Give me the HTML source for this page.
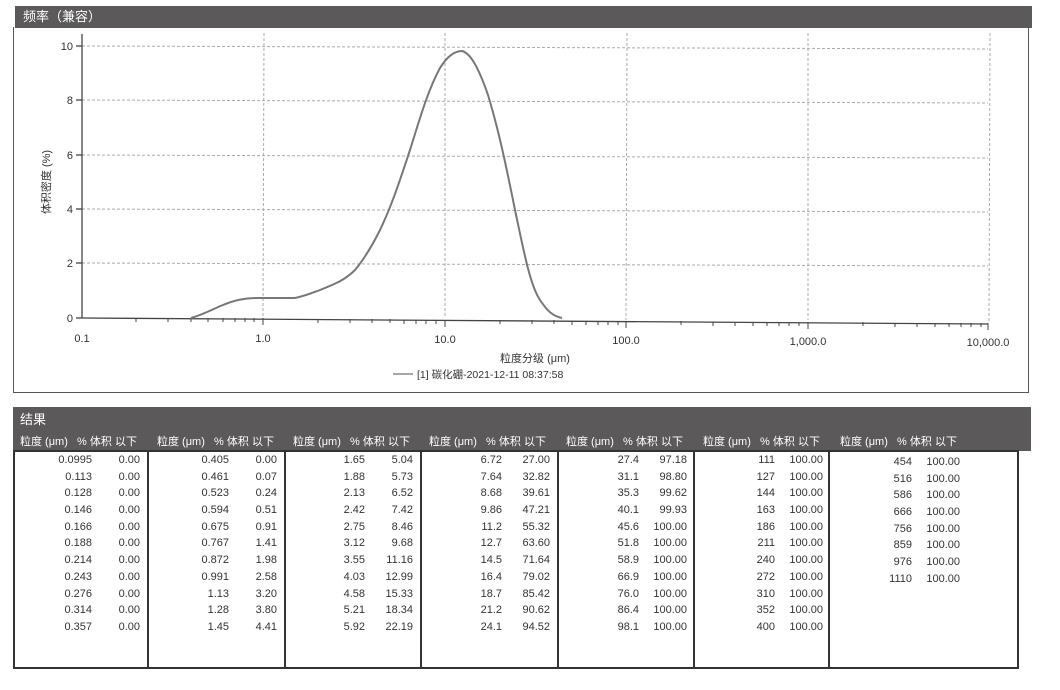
<!DOCTYPE html>
<html><head><meta charset="utf-8"><style>
body{margin:0;background:#fff;width:1060px;height:690px;position:relative;overflow:hidden;font-family:"Liberation Sans","Noto Sans CJK SC",sans-serif;color:#333}
.bar{position:absolute;background:#5b5959;color:#fff;}
.col{position:absolute;top:452px;font-size:11px;color:#333}
.col div{height:16.7px;line-height:16.7px;display:flex}
.col span{display:inline-block;text-align:right}
.col span.a{width:82px}.col span.b{width:48px}
.hd{position:absolute;top:433px;font-size:11px;color:#fff;white-space:nowrap}
.vl{position:absolute;top:450px;width:2px;height:218px;background:#333}
</style></head><body>
<div class="bar" style="left:15px;top:6px;width:1017px;height:22px;font-size:13px;line-height:22px;padding-left:8px;box-sizing:border-box">频率（兼容）</div>
<div style="position:absolute;left:13px;top:27px;width:1016px;height:366px;border:1.5px solid #555;border-top:none;box-sizing:border-box"></div>
<svg width="1060" height="400" style="position:absolute;left:0;top:0" font-family="Liberation Sans, sans-serif">
<g stroke="#aaa" stroke-dasharray="3,2" stroke-width="1">
<line x1="82" y1="46" x2="988" y2="49"/><line x1="82" y1="100" x2="988" y2="103"/><line x1="82" y1="155" x2="988" y2="158"/><line x1="82" y1="209" x2="988" y2="212"/><line x1="82" y1="263" x2="988" y2="266"/>
<line x1="264" y1="33" x2="263" y2="318"/><line x1="445" y1="33" x2="445" y2="318"/><line x1="627" y1="33" x2="626" y2="320"/><line x1="808" y1="33" x2="808" y2="320"/><line x1="990" y1="33" x2="989" y2="322"/>
</g>
<g stroke="#444" stroke-width="1.3" fill="none">
<line x1="82" y1="34" x2="82" y2="318"/><line x1="82" y1="318" x2="988" y2="324"/>
<line x1="76" y1="46" x2="82" y2="46"/><line x1="76" y1="100" x2="82" y2="100"/><line x1="76" y1="155" x2="82" y2="155"/><line x1="76" y1="209" x2="82" y2="209"/><line x1="76" y1="263" x2="82" y2="263"/><line x1="76" y1="318" x2="82" y2="318"/>
</g>
<g stroke="#444" stroke-width="1">
<path d="M136 318v4M168 318v4M191 318v4M208 318v4M223 318v4M235 318v4M245 318v4M254 318v4M263 318v7M318 319v4M350 319v4M372 319v4M390 319v4M404 320v4M416 320v4M426 320v4M436 320v4M445 320v7M500 320v4M532 320v4M554 320v4M572 321v4M586 321v4M598 321v4M608 321v4M618 321v4M626 321v7M681 321v4M713 322v4M735 322v4M753 322v4M767 322v4M779 322v4M789 322v4M799 322v4M808 322v7M863 322v4M895 323v4M917 323v4M935 323v4M949 323v4M961 323v4M971 323v4M981 323v4M988 323v7"/>
</g>
<path d="M191 318 C205 314,215 308,223 305 C235 300,245 298,258 298 L295 298 C305 296,312 293,320 290 C335 284,345 280,355 270 C365 258,372 246,380 230 C392 205,400 180,410 150 C420 118,428 90,440 68 C448 55,455 51,462 51 C470 53,478 66,488 95 C498 128,505 160,515 210 C524 252,530 285,540 300 C548 312,553 316,562 318" stroke="#777" stroke-width="2" fill="none"/>
<g font-size="11" fill="#333" text-anchor="end">
<text x="73" y="50">10</text><text x="73" y="104">8</text><text x="73" y="159">6</text><text x="73" y="213">4</text><text x="73" y="267">2</text><text x="73" y="322">0</text>
</g>
<g font-size="11" fill="#333" text-anchor="middle">
<text x="82" y="342">0.1</text><text x="263" y="342">1.0</text><text x="445" y="343">10.0</text><text x="626" y="344">100.0</text><text x="808" y="345">1,000.0</text><text x="988" y="346">10,000.0</text>
<text x="535" y="362" font-family="Liberation Sans, Noto Sans CJK SC, sans-serif">粒度分级 (μm)</text>
<text transform="translate(50,182) rotate(-90)" font-family="Liberation Sans, Noto Sans CJK SC, sans-serif">体积密度 (%)</text>
</g>
<line x1="393" y1="374" x2="413" y2="374" stroke="#888" stroke-width="1.5"/>
<text x="417" y="378" font-size="10.5" fill="#333" font-family="Liberation Sans, Noto Sans CJK SC, sans-serif">[1] 碳化硼-2021-12-11 08:37:58</text>
</svg>
<div class="bar" style="left:13px;top:407px;width:1018px;height:44px"></div>
<div style="position:absolute;left:20px;top:409px;color:#fff;font-size:13px">结果</div>
<div style="position:absolute;left:13px;top:450px;width:1006px;height:219px;border:2px solid #333;box-sizing:border-box;background:#fff"></div>
<div class="vl" style="left:147px"></div><div class="vl" style="left:284px"></div><div class="vl" style="left:420px"></div><div class="vl" style="left:557px"></div><div class="vl" style="left:693px"></div><div class="vl" style="left:828px"></div>
<div class="hd" style="left:20px">粒度 (μm)&nbsp;&nbsp;&nbsp;% 体积 以下</div>
<div class="hd" style="left:157px">粒度 (μm)&nbsp;&nbsp;&nbsp;% 体积 以下</div>
<div class="hd" style="left:293px">粒度 (μm)&nbsp;&nbsp;&nbsp;% 体积 以下</div>
<div class="hd" style="left:429px">粒度 (μm)&nbsp;&nbsp;&nbsp;% 体积 以下</div>
<div class="hd" style="left:566px">粒度 (μm)&nbsp;&nbsp;&nbsp;% 体积 以下</div>
<div class="hd" style="left:703px">粒度 (μm)&nbsp;&nbsp;&nbsp;% 体积 以下</div>
<div class="hd" style="left:840px">粒度 (μm)&nbsp;&nbsp;&nbsp;% 体积 以下</div>
<div class="col" style="left:10px">
<div><span class="a">0.0995</span><span class="b">0.00</span></div><div><span class="a">0.113</span><span class="b">0.00</span></div><div><span class="a">0.128</span><span class="b">0.00</span></div><div><span class="a">0.146</span><span class="b">0.00</span></div><div><span class="a">0.166</span><span class="b">0.00</span></div><div><span class="a">0.188</span><span class="b">0.00</span></div><div><span class="a">0.214</span><span class="b">0.00</span></div><div><span class="a">0.243</span><span class="b">0.00</span></div><div><span class="a">0.276</span><span class="b">0.00</span></div><div><span class="a">0.314</span><span class="b">0.00</span></div><div><span class="a">0.357</span><span class="b">0.00</span></div></div>
<div class="col" style="left:147px">
<div><span class="a">0.405</span><span class="b">0.00</span></div><div><span class="a">0.461</span><span class="b">0.07</span></div><div><span class="a">0.523</span><span class="b">0.24</span></div><div><span class="a">0.594</span><span class="b">0.51</span></div><div><span class="a">0.675</span><span class="b">0.91</span></div><div><span class="a">0.767</span><span class="b">1.41</span></div><div><span class="a">0.872</span><span class="b">1.98</span></div><div><span class="a">0.991</span><span class="b">2.58</span></div><div><span class="a">1.13</span><span class="b">3.20</span></div><div><span class="a">1.28</span><span class="b">3.80</span></div><div><span class="a">1.45</span><span class="b">4.41</span></div></div>
<div class="col" style="left:283px">
<div><span class="a">1.65</span><span class="b">5.04</span></div><div><span class="a">1.88</span><span class="b">5.73</span></div><div><span class="a">2.13</span><span class="b">6.52</span></div><div><span class="a">2.42</span><span class="b">7.42</span></div><div><span class="a">2.75</span><span class="b">8.46</span></div><div><span class="a">3.12</span><span class="b">9.68</span></div><div><span class="a">3.55</span><span class="b">11.16</span></div><div><span class="a">4.03</span><span class="b">12.99</span></div><div><span class="a">4.58</span><span class="b">15.33</span></div><div><span class="a">5.21</span><span class="b">18.34</span></div><div><span class="a">5.92</span><span class="b">22.19</span></div></div>
<div class="col" style="left:420px">
<div><span class="a">6.72</span><span class="b">27.00</span></div><div><span class="a">7.64</span><span class="b">32.82</span></div><div><span class="a">8.68</span><span class="b">39.61</span></div><div><span class="a">9.86</span><span class="b">47.21</span></div><div><span class="a">11.2</span><span class="b">55.32</span></div><div><span class="a">12.7</span><span class="b">63.60</span></div><div><span class="a">14.5</span><span class="b">71.64</span></div><div><span class="a">16.4</span><span class="b">79.02</span></div><div><span class="a">18.7</span><span class="b">85.42</span></div><div><span class="a">21.2</span><span class="b">90.62</span></div><div><span class="a">24.1</span><span class="b">94.52</span></div></div>
<div class="col" style="left:557px">
<div><span class="a">27.4</span><span class="b">97.18</span></div><div><span class="a">31.1</span><span class="b">98.80</span></div><div><span class="a">35.3</span><span class="b">99.62</span></div><div><span class="a">40.1</span><span class="b">99.93</span></div><div><span class="a">45.6</span><span class="b">100.00</span></div><div><span class="a">51.8</span><span class="b">100.00</span></div><div><span class="a">58.9</span><span class="b">100.00</span></div><div><span class="a">66.9</span><span class="b">100.00</span></div><div><span class="a">76.0</span><span class="b">100.00</span></div><div><span class="a">86.4</span><span class="b">100.00</span></div><div><span class="a">98.1</span><span class="b">100.00</span></div></div>
<div class="col" style="left:693px">
<div><span class="a">111</span><span class="b">100.00</span></div><div><span class="a">127</span><span class="b">100.00</span></div><div><span class="a">144</span><span class="b">100.00</span></div><div><span class="a">163</span><span class="b">100.00</span></div><div><span class="a">186</span><span class="b">100.00</span></div><div><span class="a">211</span><span class="b">100.00</span></div><div><span class="a">240</span><span class="b">100.00</span></div><div><span class="a">272</span><span class="b">100.00</span></div><div><span class="a">310</span><span class="b">100.00</span></div><div><span class="a">352</span><span class="b">100.00</span></div><div><span class="a">400</span><span class="b">100.00</span></div></div>
<div class="col" style="left:830px;top:454px">
<div><span class="a">454</span><span class="b">100.00</span></div><div><span class="a">516</span><span class="b">100.00</span></div><div><span class="a">586</span><span class="b">100.00</span></div><div><span class="a">666</span><span class="b">100.00</span></div><div><span class="a">756</span><span class="b">100.00</span></div><div><span class="a">859</span><span class="b">100.00</span></div><div><span class="a">976</span><span class="b">100.00</span></div><div><span class="a">1110</span><span class="b">100.00</span></div></div>
</body></html>
